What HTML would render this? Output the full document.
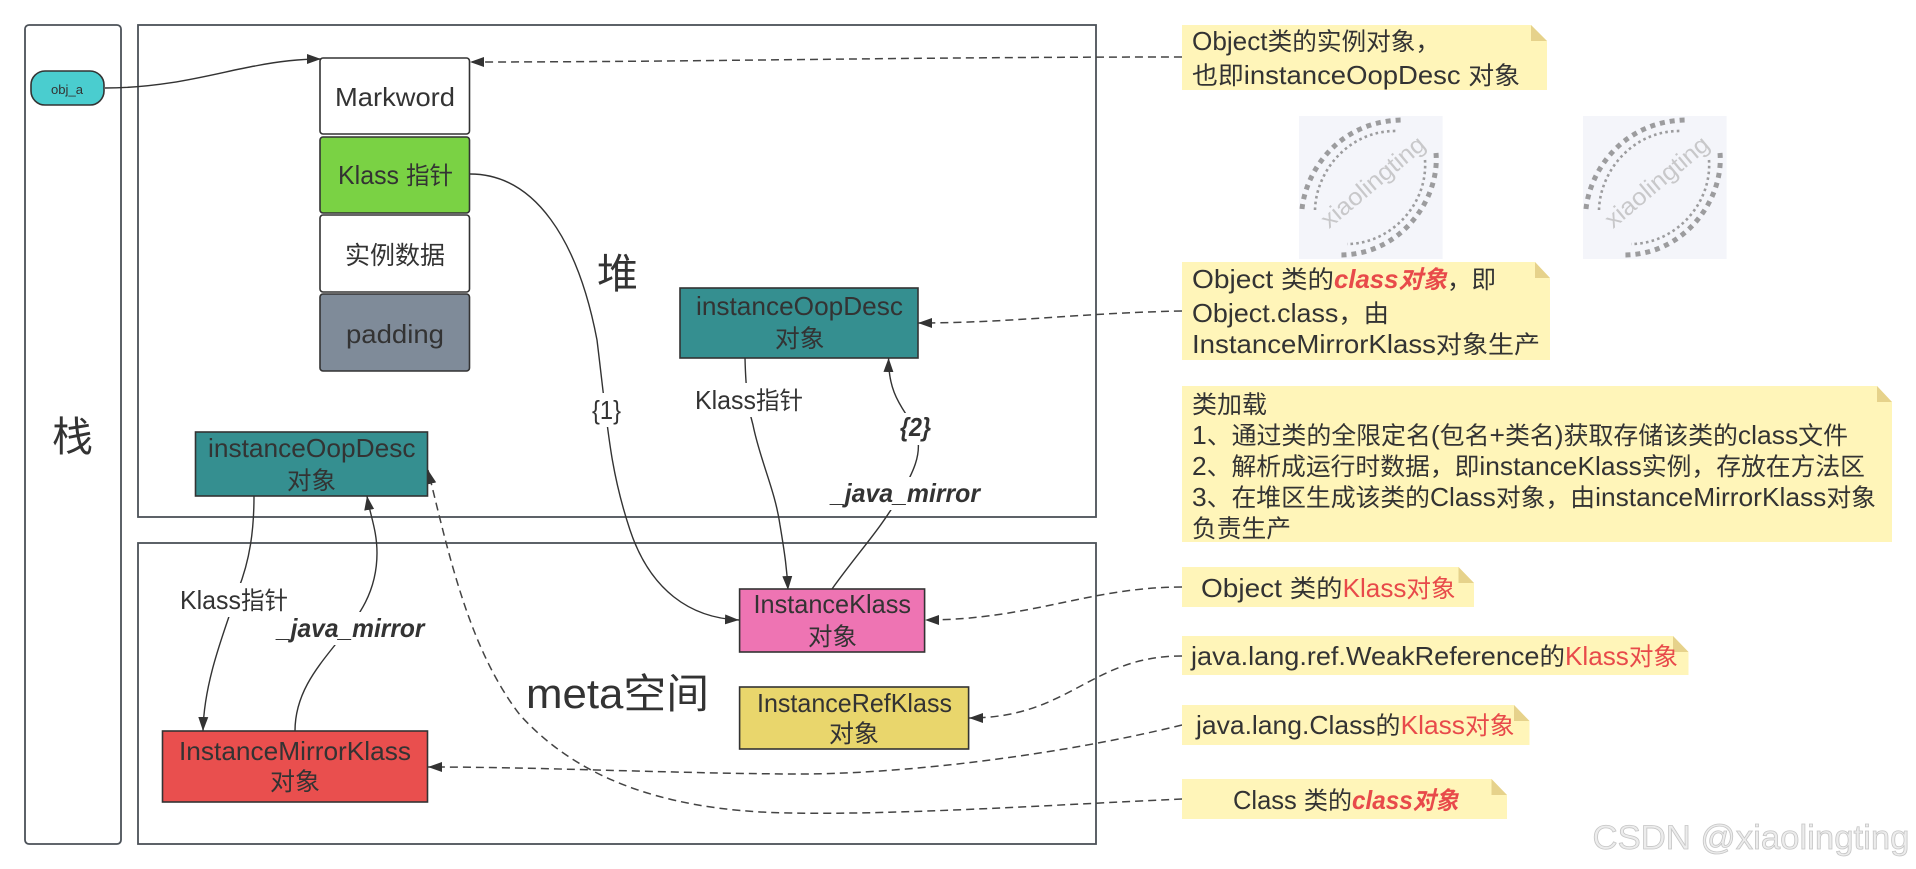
<!DOCTYPE html>
<html>
<head>
<meta charset="utf-8">
<style>
html,body{margin:0;padding:0;background:#fff;width:1916px;height:869px;overflow:hidden}
svg{display:block}
text{font-family:"Liberation Sans","Noto Sans CJK SC",sans-serif;fill:#333;font-size:26px}
tspan.z{font-size:24.5px}
.r{fill:#E84A4A}
.bi{font-weight:bold;font-style:italic}
.c{fill:none;stroke:#333;stroke-width:1.4}
.d{fill:none;stroke:#444;stroke-width:1.5;stroke-dasharray:8 5}
.box{stroke:#333;stroke-width:1.6}
.note{fill:#FFF5B9}
.fold{fill:#E6D28B}
</style>
</head>
<body>
<svg width="1916" height="869" viewBox="0 0 1916 869" xmlns="http://www.w3.org/2000/svg">
<defs>
<marker id="a" markerUnits="userSpaceOnUse" markerWidth="15" markerHeight="12" refX="14" refY="5" orient="auto"><path d="M0,0 L14,5 L0,10 Z" fill="#333"/></marker>
</defs>
<rect width="1916" height="869" fill="#fff"/>

<!-- containers -->
<rect x="25" y="25" width="96" height="819" rx="4" fill="#fff" stroke="#4b5158" stroke-width="1.8"/>
<rect x="138" y="25" width="958" height="492" fill="#fff" stroke="#4b5158" stroke-width="1.8"/>
<rect x="138" y="543" width="958" height="301" fill="#fff" stroke="#4b5158" stroke-width="1.8"/>

<!-- connectors -->
<path class="c" marker-end="url(#a)" d="M105,88 C170,88 220,72 255,66 C285,60 305,59 321,59"/>
<path class="c" marker-end="url(#a)" d="M470,174 C535,174 578,240 597,340 C608,430 610,470 630,530 C650,590 690,618 739,620"/>
<path class="c" marker-end="url(#a)" d="M745,358 C746,400 750,415 753,425 C760,460 775,490 780,525 C785,555 787,570 788,590"/>
<path class="c" marker-end="url(#a)" d="M832,589 C860,550 880,530 900,495 C915,470 920,455 918,440 C914,415 888,405 888.6,358"/>
<path class="c" marker-end="url(#a)" d="M254,496 C254,530 250,560 238,590 C225,630 204,680 203,731"/>
<path class="c" marker-end="url(#a)" d="M295,731 C295,695 315,670 335,645 C350,625 377,600 377,553 C377,530 370,515 367,496"/>

<path class="d" marker-end="url(#a)" d="M1182,57 C900,57 700,62 470,62"/>
<path class="d" marker-end="url(#a)" d="M1182,311 C1080,313 1010,323 918,323"/>
<path class="d" marker-end="url(#a)" d="M1182,587 C1090,587 1030,620 925,620"/>
<path class="d" marker-end="url(#a)" d="M1182,656 C1090,656 1070,718 969,718"/>
<path class="d" marker-end="url(#a)" d="M1182,725 C1060,755 900,775 790,774 C660,773 540,767 428,767"/>
<path class="d" marker-end="url(#a)" d="M1182,799 C1050,805 900,815 790,813 C650,811 570,770 520,715 C470,650 450,560 428,470"/>

<!-- edge label backgrounds -->
<rect x="590" y="393" width="33" height="34" fill="#fff"/>
<rect x="693" y="383" width="112" height="34" fill="#fff"/>
<rect x="898" y="413" width="35" height="32" fill="#fff"/>
<rect x="829" y="477" width="153" height="33" fill="#fff"/>
<rect x="178" y="583" width="112" height="34" fill="#fff"/>
<rect x="275" y="612" width="152" height="33" fill="#fff"/>

<!-- nodes -->
<rect x="31" y="71" width="73" height="34" rx="14" fill="#4ACDCF" class="box"/>
<rect x="320" y="58" width="149.5" height="76" rx="3" fill="#fff" class="box"/>
<rect x="320" y="137" width="149.5" height="76" rx="3" fill="#7AD244" class="box"/>
<rect x="320" y="215" width="149.5" height="77" rx="3" fill="#fff" class="box"/>
<rect x="320" y="294" width="149.5" height="77" rx="3" fill="#7F8B99" class="box"/>
<rect x="195.5" y="432" width="232" height="64" fill="#358F90" class="box"/>
<rect x="162.5" y="731" width="265" height="71" fill="#E94F4E" class="box"/>
<rect x="680" y="288" width="238" height="70" fill="#358F90" class="box"/>
<rect x="739.6" y="589" width="185" height="63" fill="#EE74B3" class="box"/>
<rect x="739.6" y="687" width="229" height="62" fill="#E9D66C" class="box"/>

<!-- node text -->
<text x="51" y="94" style="font-size:13px" textLength="32" lengthAdjust="spacingAndGlyphs">obj_a</text>
<text x="335" y="106" textLength="120" lengthAdjust="spacingAndGlyphs">Markword</text>
<text x="338" y="184" textLength="115" lengthAdjust="spacingAndGlyphs">Klass <tspan class="z">指针</tspan></text>
<text x="345" y="264" style="font-size:25px" textLength="100" lengthAdjust="spacingAndGlyphs">实例数据</text>
<text x="346" y="343" textLength="98" lengthAdjust="spacingAndGlyphs">padding</text>
<text x="208" y="457" textLength="207.5" lengthAdjust="spacingAndGlyphs">instanceOopDesc</text>
<text x="287" y="489" style="font-size:24.5px" textLength="49" lengthAdjust="spacingAndGlyphs">对象</text>
<text x="179" y="760" textLength="232" lengthAdjust="spacingAndGlyphs">InstanceMirrorKlass</text>
<text x="270" y="790" style="font-size:24.5px" textLength="50" lengthAdjust="spacingAndGlyphs">对象</text>
<text x="696" y="315" textLength="207" lengthAdjust="spacingAndGlyphs">instanceOopDesc</text>
<text x="775" y="347" style="font-size:24.5px" textLength="49.5" lengthAdjust="spacingAndGlyphs">对象</text>
<text x="753.5" y="613" textLength="157.5" lengthAdjust="spacingAndGlyphs">InstanceKlass</text>
<text x="808" y="645" style="font-size:24.5px" textLength="49" lengthAdjust="spacingAndGlyphs">对象</text>
<text x="757" y="712" textLength="195" lengthAdjust="spacingAndGlyphs">InstanceRefKlass</text>
<text x="829" y="742" style="font-size:24.5px" textLength="50" lengthAdjust="spacingAndGlyphs">对象</text>

<!-- big labels -->
<text x="52" y="451" style="font-size:41px">栈</text>
<text x="597" y="288" style="font-size:41px">堆</text>
<text x="526" y="708" style="font-size:42px" textLength="183" lengthAdjust="spacingAndGlyphs">meta<tspan style="font-size:41px">空间</tspan></text>

<!-- edge labels -->
<text x="592" y="419" textLength="29" lengthAdjust="spacingAndGlyphs">{1}</text>
<text x="695" y="409" textLength="108" lengthAdjust="spacingAndGlyphs">Klass<tspan class="z">指针</tspan></text>
<text x="900" y="436" class="bi" textLength="31" lengthAdjust="spacingAndGlyphs">{2}</text>
<text x="831" y="502" class="bi" textLength="149" lengthAdjust="spacingAndGlyphs">_java_mirror</text>
<text x="180" y="609" textLength="108" lengthAdjust="spacingAndGlyphs">Klass<tspan class="z">指针</tspan></text>
<text x="277" y="637" class="bi" textLength="147.5" lengthAdjust="spacingAndGlyphs">_java_mirror</text>

<!-- watermarks -->
<rect x="1299" y="116" width="143.6" height="143" fill="#F4F5FA"/>
<rect x="1583" y="116" width="143.6" height="143" fill="#F4F5FA"/>
<g fill="none" stroke="#9c9c9e">
<path stroke-width="5" stroke-dasharray="5 5" d="M1302,209 C1306,170 1340,120 1404,120 M1436,153 C1440,200 1400,255 1340,255"/>
<path stroke-width="2.6" stroke-dasharray="2.6 3.2" d="M1315,210 C1316,170 1350,130 1397,131 M1425,160 C1428,205 1390,244 1347,244"/>
<path stroke-width="5" stroke-dasharray="5 5" d="M1586,209 C1590,170 1624,120 1688,120 M1720,153 C1724,200 1684,255 1624,255"/>
<path stroke-width="2.6" stroke-dasharray="2.6 3.2" d="M1599,210 C1600,170 1634,130 1681,131 M1709,160 C1712,205 1674,244 1631,244"/>
</g>
<text style="fill:#c8c8ca;font-size:24px" transform="translate(1378,188) rotate(-40)" text-anchor="middle" textLength="128" lengthAdjust="spacingAndGlyphs">xiaolingting</text>
<text style="fill:#c8c8ca;font-size:24px" transform="translate(1662,188) rotate(-40)" text-anchor="middle" textLength="128" lengthAdjust="spacingAndGlyphs">xiaolingting</text>

<!-- notes -->
<polygon class="note" points="1182,25 1531,25 1547,41 1547,90 1182,90"/><polygon class="fold" points="1531,25 1547,41 1531,41"/>
<polygon class="note" points="1182,262 1535,262 1550,278 1550,360 1182,360"/><polygon class="fold" points="1535,262 1550,278 1535,278"/>
<polygon class="note" points="1182,386 1877,386 1892,402 1892,542 1182,542"/><polygon class="fold" points="1877,386 1892,402 1877,402"/>
<polygon class="note" points="1182,567 1458.5,567 1474,583 1474,607 1182,607"/><polygon class="fold" points="1458.5,567 1474,583 1458.5,583"/>
<polygon class="note" points="1182,636 1673,636 1688.5,652 1688.5,675 1182,675"/><polygon class="fold" points="1673,636 1688.5,652 1673,652"/>
<polygon class="note" points="1182,705 1514,705 1529.5,721 1529.5,745 1182,745"/><polygon class="fold" points="1514,705 1529.5,721 1514,721"/>
<polygon class="note" points="1182,779 1491.5,779 1507,795 1507,819 1182,819"/><polygon class="fold" points="1491.5,779 1507,795 1491.5,795"/>

<!-- note text -->
<text x="1192" y="50" textLength="248" lengthAdjust="spacingAndGlyphs">Object<tspan class="z">类的实例对象，</tspan></text>
<text x="1192" y="84" textLength="328" lengthAdjust="spacingAndGlyphs"><tspan class="z">也即</tspan>instanceOopDesc <tspan class="z">对象</tspan></text>

<text x="1192" y="288" textLength="142" lengthAdjust="spacingAndGlyphs">Object <tspan class="z">类的</tspan></text>
<text x="1334" y="288" class="r bi" textLength="113" lengthAdjust="spacingAndGlyphs">class<tspan class="z">对象</tspan></text>
<text x="1447" y="288" style="font-size:24.5px" textLength="49" lengthAdjust="spacingAndGlyphs">，即</text>
<text x="1192" y="322" textLength="197" lengthAdjust="spacingAndGlyphs">Object.class<tspan class="z">，由</tspan></text>
<text x="1192" y="353" textLength="348" lengthAdjust="spacingAndGlyphs">InstanceMirrorKlass<tspan class="z">对象生产</tspan></text>

<text x="1192" y="413" style="font-size:24.5px" textLength="75" lengthAdjust="spacingAndGlyphs">类加载</text>
<text x="1192" y="444" textLength="656" lengthAdjust="spacingAndGlyphs">1<tspan class="z">、通过类的全限定名</tspan>(<tspan class="z">包名</tspan>+<tspan class="z">类名</tspan>)<tspan class="z">获取存储该类的</tspan>class<tspan class="z">文件</tspan></text>
<text x="1192" y="475" textLength="673" lengthAdjust="spacingAndGlyphs">2<tspan class="z">、解析成运行时数据，即</tspan>instanceKlass<tspan class="z">实例，存放在方法区</tspan></text>
<text x="1192" y="506" textLength="684" lengthAdjust="spacingAndGlyphs">3<tspan class="z">、在堆区生成该类的</tspan>Class<tspan class="z">对象，由</tspan>instanceMirrorKlass<tspan class="z">对象</tspan></text>
<text x="1192" y="537" style="font-size:24.5px" textLength="99" lengthAdjust="spacingAndGlyphs">负责生产</text>

<text x="1201" y="597" textLength="141.5" lengthAdjust="spacingAndGlyphs">Object <tspan class="z">类的</tspan></text>
<text x="1342.6" y="597" class="r" textLength="113" lengthAdjust="spacingAndGlyphs">Klass<tspan class="z">对象</tspan></text>

<text x="1191" y="665" textLength="374" lengthAdjust="spacingAndGlyphs">java.lang.ref.WeakReference<tspan class="z">的</tspan></text>
<text x="1565" y="665" class="r" textLength="113" lengthAdjust="spacingAndGlyphs">Klass<tspan class="z">对象</tspan></text>

<text x="1196" y="734" textLength="204.5" lengthAdjust="spacingAndGlyphs">java.lang.Class<tspan class="z">的</tspan></text>
<text x="1400.6" y="734" class="r" textLength="114" lengthAdjust="spacingAndGlyphs">Klass<tspan class="z">对象</tspan></text>

<text x="1233" y="809" textLength="119" lengthAdjust="spacingAndGlyphs">Class <tspan class="z">类的</tspan></text>
<text x="1352" y="809" class="r bi" textLength="106.5" lengthAdjust="spacingAndGlyphs">class<tspan class="z">对象</tspan></text>

<!-- csdn -->
<text x="1592.5" y="849" style="font-size:34px;fill:#ececec;stroke:#c6c6c6;stroke-width:.8" textLength="317" lengthAdjust="spacingAndGlyphs">CSDN @xiaolingting</text>
</svg>
</body>
</html>
